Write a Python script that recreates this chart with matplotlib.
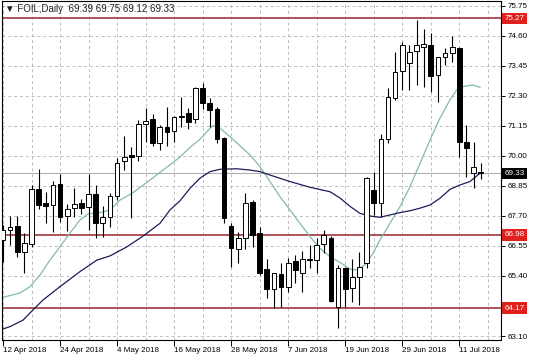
import matplotlib
matplotlib.use('Agg')
import matplotlib.pyplot as plt
import matplotlib.transforms as mtransforms

plt.rcParams['font.family'] = ['Liberation Sans', 'DejaVu Sans']

# daily candles FOIL (bar index = trading day from 12 Apr 2018)
opens = [66.78, 67.16, 67.32, 66.33, 66.63, 68.72, 68.19, 68.12, 68.93, 67.71,
         67.99, 68.19, 68.06, 68.54, 67.44, 67.65, 68.47, 69.82, 70.02, 70.00,
         71.23, 71.41, 70.49, 71.10, 70.97, 71.49, 71.66, 71.41, 72.60, 72.04,
         71.79, 70.68, 67.32, 66.42, 66.85, 68.25, 67.04, 65.66, 64.89, 65.48,
         64.99, 65.99, 65.50, 66.02, 66.01, 66.63, 66.85, 64.22, 65.70, 64.93,
         65.37, 65.89, 68.70, 68.19, 70.64, 72.21, 73.27, 73.55, 74.04, 74.17,
         74.25, 73.11, 73.78, 73.96, 74.13, 70.55, 69.36, 69.39]
highs = [67.36, 67.70, 67.70, 67.05, 68.89, 69.50, 68.63, 69.05, 69.31, 68.15,
         68.76, 68.34, 69.31, 68.88, 68.10, 68.59, 69.91, 70.77, 70.33, 71.38,
         71.83, 71.61, 71.19, 71.89, 71.53, 72.27, 71.83, 72.66, 72.81, 72.21,
         71.87, 70.74, 67.42, 67.10, 68.59, 68.31, 67.27, 66.04, 65.52, 65.91,
         66.08, 66.20, 66.37, 66.59, 66.85, 67.16, 66.93, 65.82, 65.76, 66.04,
         66.33, 69.21, 69.40, 70.84, 72.60, 74.00, 74.38, 74.25, 75.21, 74.86,
         74.73, 73.81, 74.13, 74.60, 74.17, 71.19, 70.55, 69.75]
lows = [65.94, 66.59, 66.13, 65.53, 66.52, 67.96, 67.44, 67.10, 67.48, 67.14,
        67.65, 67.78, 67.16, 66.85, 66.91, 67.29, 68.31, 69.46, 67.61, 69.82,
        70.55, 70.38, 70.23, 70.38, 70.55, 71.12, 71.02, 71.28, 71.79, 71.12,
        70.49, 67.44, 65.76, 65.89, 66.45, 66.52, 65.45, 64.54, 64.19, 64.20,
        64.80, 65.12, 64.80, 65.71, 65.50, 66.30, 64.40, 63.40, 64.22, 64.42,
        64.29, 65.70, 67.74, 67.67, 70.51, 72.15, 72.53, 72.53, 72.72, 72.63,
        72.47, 72.08, 73.49, 73.62, 69.97, 69.21, 68.76, 69.12]
closes = [67.16, 67.28, 66.32, 66.68, 68.72, 68.12, 68.10, 68.89, 67.67, 67.97,
          68.15, 68.02, 68.54, 67.44, 67.67, 68.47, 69.72, 69.95, 69.98, 71.23,
          71.35, 70.49, 71.12, 70.93, 71.51, 71.53, 71.32, 72.60, 72.04, 71.76,
          70.64, 67.61, 66.46, 66.85, 68.21, 66.97, 65.50, 64.89, 65.50, 64.99,
          65.91, 65.63, 66.04, 66.06, 66.59, 66.97, 64.45, 65.70, 64.89, 65.35,
          65.76, 69.17, 68.19, 70.64, 72.25, 73.23, 74.25, 74.00, 74.25, 74.29,
          73.07, 73.78, 73.96, 74.17, 70.55, 70.30, 69.57, 69.33]

# moving averages (bar index, price)
fast_pos = [-0.42, 2.38, 3.79, 5.19, 6.59, 7.99, 9.40, 10.80, 11.92, 13.60, 15.01,
            16.41, 18.23, 20.62, 23.42, 24.82, 26.23, 27.63, 29.03, 29.45, 30.43,
            31.84, 34.64, 36.04, 37.45, 38.85, 40.25, 41.65, 43.06, 44.46, 45.86,
            47.27, 48.67, 49.37, 50.07, 51.01, 51.89, 52.87, 54.28, 55.68, 57.08,
            58.49, 59.89, 61.29, 62.69, 63.63, 64.52, 65.92, 66.90]
fast_ma = [64.55, 64.75, 64.99, 65.44, 66.01, 66.52, 67.05, 67.55, 67.78, 67.83, 67.93,
           68.31, 68.59, 69.08, 69.66, 69.96, 70.33, 70.64, 71.06, 71.16, 71.06,
           70.74, 70.04, 69.59, 69.02, 68.44, 67.93, 67.42, 66.91, 66.46, 66.14,
           65.92, 65.67, 65.63, 65.70, 65.89, 66.27, 66.78, 67.42, 68.06, 68.82,
           69.72, 70.61, 71.45, 72.15, 72.53, 72.66, 72.72, 72.63]
slow_pos = [-0.42, 0.98, 2.81, 4.21, 5.61, 7.99, 10.80, 13.18, 15.01, 17.39, 19.64,
            22.02, 23.42, 24.82, 26.23, 27.63, 29.03, 30.43, 32.78, 34.64, 36.04,
            37.45, 40.25, 43.06, 45.86, 47.27, 48.67, 50.07, 51.47, 52.87, 54.28,
            55.68, 57.08, 58.49, 59.89, 61.29, 62.69, 64.10, 65.50, 66.90]
slow_ma = [63.33, 63.46, 63.71, 64.10, 64.48, 64.99, 65.57, 66.01, 66.17, 66.52, 66.93,
           67.42, 67.93, 68.28, 68.76, 69.15, 69.40, 69.49, 69.51, 69.46, 69.40,
           69.27, 69.02, 68.80, 68.63, 68.39, 68.07, 67.80, 67.70, 67.65, 67.74,
           67.83, 67.90, 68.00, 68.12, 68.38, 68.72, 68.89, 69.02, 69.34]

levels = [75.27, 66.98, 64.17]
last_price = 69.33
price_ticks = [75.75, 74.60, 73.45, 72.30, 71.15, 70.00, 68.85, 67.70, 66.55, 65.40, 63.10]
date_pos = [0, 8, 16, 24, 32, 40, 48, 56, 64]
date_labels = ['12 Apr 2018', '24 Apr 2018', '4 May 2018', '16 May 2018', '28 May 2018',
               '7 Jun 2018', '19 Jun 2018', '29 Jun 2018', '11 Jul 2018']

fs = 5.8

fig = plt.figure(figsize=(5.36, 3.57), dpi=100)
ax = fig.add_axes([2 / 536, 17 / 357, 499 / 536, 339 / 357])
ax.set_xlim(-0.14, 69.85)
ax.set_ylim(62.947, 75.94)

# grid
for gx in range(0, 70, 4):
    ax.axvline(gx, color='#bcbcbc', lw=0.7, ls=(0, (3, 3)), zorder=0)
for gy in price_ticks:
    ax.axhline(gy, color='#bcbcbc', lw=0.7, ls=(0, (3, 3)), zorder=0)

# moving averages
ax.plot(fast_pos, fast_ma, color='#86b8b2', lw=0.9, zorder=2)
ax.plot(slow_pos, slow_ma, color='#1c1c5a', lw=0.9, zorder=2)

# support / resistance lines and bid line
for lv in levels:
    ax.axhline(lv, color='#a8444c', lw=1.3, zorder=1)
ax.axhline(last_price, color='#b0b0b0', lw=0.8, zorder=1)

# candles
idx = list(range(len(opens)))
ax.vlines(idx, lows, highs, color='black', lw=0.8, zorder=3)
for i in idx:
    o, c = opens[i], closes[i]
    h = abs(c - o)
    fc = 'white' if c >= o else 'black'
    if h < 0.03:
        ax.hlines(c, i - 0.33, i + 0.33, color='black', lw=0.9, zorder=4)
    else:
        ax.bar(i, h, bottom=min(o, c), width=0.66, color=fc, edgecolor='black',
               lw=0.7, zorder=4)

# axes styling
for s in ax.spines.values():
    s.set_color('black')
    s.set_linewidth(0.8)
ax.yaxis.tick_right()
ax.set_yticks(price_ticks)
ax.set_yticklabels(['%.2f' % t for t in price_ticks])
ax.set_xticks(date_pos)
ax.set_xticklabels(date_labels)
ax.tick_params(axis='y', length=3, width=0.7, pad=1.5, labelsize=fs, colors='black')
ax.tick_params(axis='x', length=4, width=0.7, pad=1, labelsize=fs, colors='black')
for lab in ax.get_xticklabels():
    lab.set_ha('left')

# price tags
trans = mtransforms.blended_transform_factory(ax.transAxes, ax.transData)
for lv in levels:
    ax.text(1.007, lv, '%.2f' % lv, transform=trans, fontsize=fs, color='white',
            va='center', ha='left', clip_on=False, zorder=6,
            bbox=dict(boxstyle='square,pad=0.3', fc='#e0201c', ec='none'))
ax.text(1.007, last_price, '%.2f' % last_price, transform=trans, fontsize=fs,
        color='white', va='center', ha='left', clip_on=False, zorder=6,
        bbox=dict(boxstyle='square,pad=0.3', fc='black', ec='none'))

# header
ax.text(0.006, 0.976, '\u25bc FOIL,Daily  %.2f %.2f %.2f %.2f' % (opens[-1], highs[-1], lows[-1], closes[-1]),
        transform=ax.transAxes, fontsize=7, color='#222222', va='center', ha='left', zorder=6)

fig.savefig('out.png', dpi=100)
